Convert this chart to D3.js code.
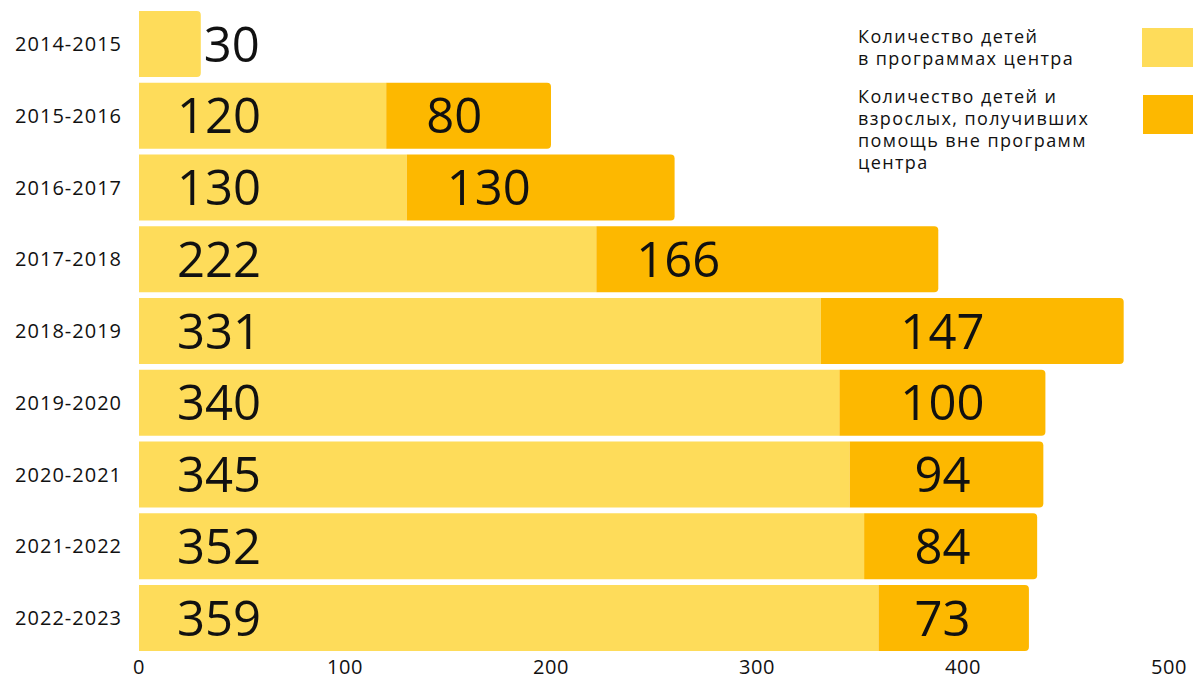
<!DOCTYPE html>
<html>
<head>
<meta charset="utf-8">
<script src="https://cdn.jsdelivr.net/npm/d3@7"></script>
<style>
  html, body { margin: 0; padding: 0; background: #fff; }
  svg { display: block; }
  text { font-family: "Open Sans", "DejaVu Sans", sans-serif; fill: #111; }
</style>
</head>
<body>
<svg id="chart" width="1193" height="679"></svg>
<script>
const years = ["2014-2015","2015-2016","2016-2017","2017-2018","2018-2019","2019-2020","2020-2021","2021-2022","2022-2023"];
const inPrograms = [30, 120, 130, 222, 331, 340, 345, 352, 359];
const outsidePrograms = [0, 80, 130, 166, 147, 100, 94, 84, 73];
const xTicks = [0, 100, 200, 300, 400, 500];
const legendItems = [
  ["Количество детей", "в программах центра"],
  ["Количество детей и", "взрослых, получивших", "помощь вне программ", "центра"]
];
const colors = ["#FEDC5A", "#FDB800"];

const svg = d3.select("#chart");
const x = d3.scaleLinear().domain([0, 500]).range([139, 1169]);
const y = d3.scaleBand().domain(years).range([11, 651]).paddingInner(0.08).paddingOuter(0);
const bh = y.bandwidth();
const r = 4;

function barPath(x0, x1, y0, h, rounded) {
  if (!rounded) return `M${x0},${y0}H${x1}V${y0 + h}H${x0}Z`;
  return `M${x0},${y0}H${x1 - r}Q${x1},${y0} ${x1},${y0 + r}V${y0 + h - r}Q${x1},${y0 + h} ${x1 - r},${y0 + h}H${x0}Z`;
}

const rows = years.map((yr, i) => ({ yr, a: inPrograms[i], b: outsidePrograms[i] }));
const g = svg.append("g");

rows.forEach(d => {
  const y0 = y(d.yr);
  const xa0 = x(0), xa1 = x(d.a), xb1 = x(d.a + d.b);
  g.append("path").attr("d", barPath(xa0, xa1, y0, bh, d.b === 0)).attr("fill", colors[0]);
  if (d.b > 0) {
    g.append("path").attr("d", barPath(xa1, xb1, y0, bh, true)).attr("fill", colors[1]);
  }
  const cy = y0 + bh / 2;
  const wA = xa1 - xa0;
  g.append("text")
    .attr("x", wA < 100 ? xa1 + 3 : xa0 + 38)
    .attr("y", cy).attr("dy", "0.36em")
    .attr("font-size", 49)
    .attr("text-anchor", "start")
    .text(d.a);
  if (d.b > 0) {
    const nearStart = xa1 < x(300);
    g.append("text")
      .attr("x", nearStart ? xa1 + 40 : x(390))
      .attr("y", cy).attr("dy", "0.36em")
      .attr("font-size", 49)
      .attr("text-anchor", nearStart ? "start" : "middle")
      .text(d.b);
  }
});

// y labels
svg.append("g").selectAll("text").data(years).join("text")
  .attr("x", 122)
  .attr("y", d => y(d) + bh / 2)
  .attr("dy", "0.36em")
  .attr("text-anchor", "end")
  .attr("font-size", 20)
  .attr("letter-spacing", 1)
  .text(d => d);

// x ticks
svg.append("g").selectAll("text").data(xTicks).join("text")
  .attr("x", d => x(d))
  .attr("y", 667)
  .attr("dy", "0.36em")
  .attr("text-anchor", "middle")
  .attr("font-size", 20)
  .attr("letter-spacing", 0.5)
  .text(d => d);

// legend
const legTop = [37, 97];
const swTop = [28, 95];
const lg = svg.append("g");
legendItems.forEach((lines, i) => {
  lines.forEach((ln, j) => {
    lg.append("text")
      .attr("x", 858)
      .attr("y", legTop[i] + j * 22)
      .attr("dy", "0.36em")
      .attr("font-size", 18)
      .attr("letter-spacing", 1.4)
      .attr("fill", "#1a1a1a")
      .text(ln);
  });
  lg.append("rect")
    .attr("x", 1142 + i)
    .attr("y", swTop[i])
    .attr("width", 52)
    .attr("height", 39)
    .attr("fill", colors[i]);
});
</script>
</body>
</html>
